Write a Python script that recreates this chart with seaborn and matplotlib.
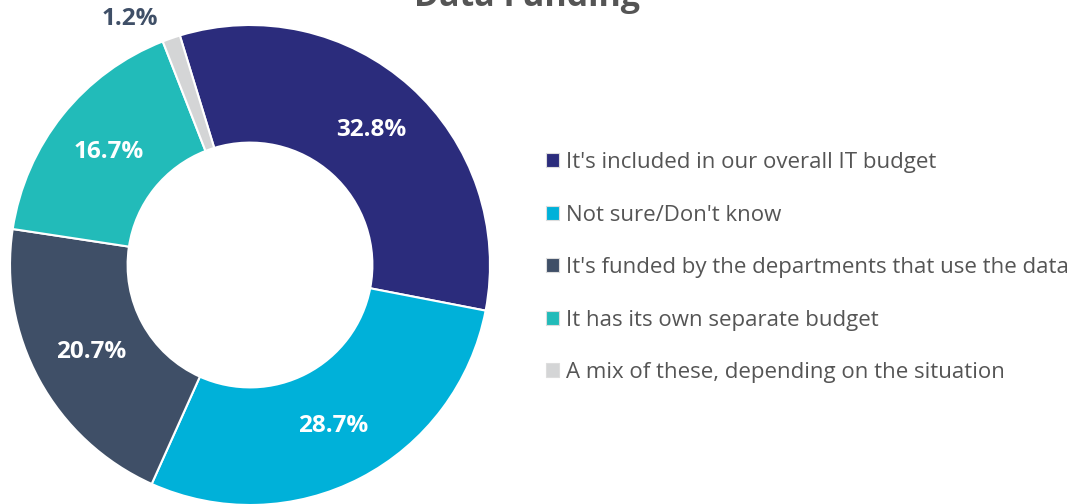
import numpy as np
import matplotlib
matplotlib.use("Agg")
import matplotlib.pyplot as plt
import seaborn as sns

# data
categories = [
    "It's included in our overall IT budget",
    "Not sure/Don't know",
    "It's funded by the departments that use the data",
    "It has its own separate budget",
    "A mix of these, depending on the situation",
]
shares = [32.8, 28.7, 20.7, 16.7, 1.2]
colors = ["#2b2c7c", "#00b1d9", "#3f4f67", "#22bbb9", "#d4d5d6"]
title = "Data Funding"

sns.set_theme(style="white")
plt.rcParams["font.family"] = ["Open Sans", "DejaVu Sans"]

fig = plt.figure(figsize=(10.81, 5.04), dpi=100)
W, H = 1081, 504

# donut axes placed in pixel space
cx, cy, r = 250, 265, 240
ax = fig.add_axes([(cx - r) / W, (H - cy - r) / H, 2 * r / W, 2 * r / H])

wedges, _ = ax.pie(
    shares,
    colors=colors,
    startangle=107,
    counterclock=False,
    radius=1.0,
    wedgeprops=dict(width=0.49, edgecolor="white", linewidth=1.5),
)
ax.set_xlim(-1, 1)
ax.set_ylim(-1, 1)
ax.set_aspect("equal")
ax.axis("off")

for w, val in zip(wedges, shares):
    ang = np.deg2rad((w.theta1 + w.theta2) / 2)
    if val < 5:
        ang = ang + np.deg2rad(7)
        rr, col = 1.14, "#3f4f67"
    else:
        rr, col = 0.755, "white"
    ax.text(rr * np.cos(ang), rr * np.sin(ang), f"{val}%",
            ha="center", va="center", fontsize=17.5, fontweight="bold",
            color=col, clip_on=False)

leg = fig.legend(
    wedges, categories,
    loc="upper left", bbox_to_anchor=(526 / W, 1 - 132 / H),
    frameon=False, fontsize=16, labelcolor="#555555",
    handlelength=0.58, handleheight=0.58, handletextpad=0.33,
    labelspacing=1.42,
)
for h in leg.legend_handles:
    h.set_edgecolor("#dddddd")
    h.set_linewidth(0.8)

fig.text(527 / W, 1 - (-3) / H, title, ha="center", va="center",
         fontsize=24.5, fontweight="bold", color="#555555")

fig.savefig("out.png", dpi=100)
